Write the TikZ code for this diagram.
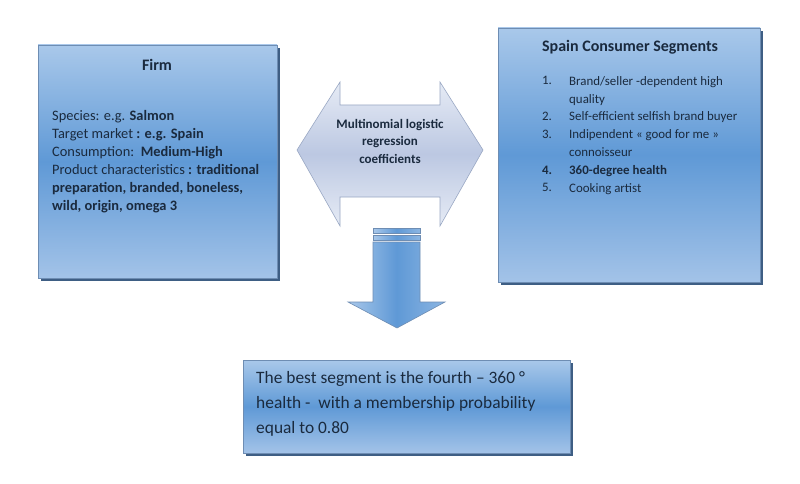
\documentclass[tikz,border=0pt]{standalone}
\usepackage{fontspec}
\setmainfont{Carlito}
\definecolor{boxtop}{HTML}{A9C8EA}
\definecolor{boxmid}{HTML}{5F99D6}
\definecolor{boxbot}{HTML}{A3C3E8}
\definecolor{boxline}{HTML}{6E8DB3}
\definecolor{shadowc}{HTML}{3E5E84}
\definecolor{arrtop}{HTML}{E6EBF5}
\definecolor{arrmid}{HTML}{BCC8E2}
\definecolor{arrline}{HTML}{9AA8C4}
\definecolor{txt}{HTML}{1A2A3E}
\begin{document}
\begin{tikzpicture}[x=1pt,y=-1pt,
  boxbody/.style={draw=boxline, line width=0.6pt, top color=boxtop, bottom color=boxbot, middle color=boxmid},
  boxshadow/.style={fill=shadowc},
  bodytext/.style={inner sep=0pt, align=left, text=txt, font=\fontsize{14.4}{18}\selectfont},
  segtextstyle/.style={inner sep=0pt, align=left, text=txt, font=\fontsize{12.9}{17.9}\selectfont},
  titletext/.style={inner sep=0pt, text=txt, font=\fontsize{16}{18}\selectfont\bfseries},
  arrbody/.style={draw=arrline, line width=0.6pt, top color=arrtop, bottom color=arrtop, middle color=arrmid},
  downarr/.style={draw=boxline, line width=0.6pt, left color=boxtop, right color=boxtop!60!boxmid, middle color=boxmid}
]
\useasboundingbox (0,0) rectangle (800,484);
\fill[white] (0,0) rectangle (800,484);

% Firm box
\fill[boxshadow] (41,48) rectangle (280,281);
\path[boxbody] (38,45) rectangle (277,278);
\node[titletext] (firmtitle) at (157,65) {Firm};
\node[bodytext, anchor=north west] (firmtext) at (52,110) {Species: e.g. \textbf{Salmon}\\
Target market \textbf{: e.g. Spain}\\
Consumption:\ \ \textbf{Medium-High}\\
Product characteristics \textbf{: traditional}\\
\textbf{preparation, branded, boneless,}\\
\textbf{wild, origin, omega 3}};

% Segments box
\fill[boxshadow] (501,31) rectangle (763,285);
\path[boxbody] (498,28) rectangle (760,282);
\node[titletext] (segtitle) at (630,47) {Spain Consumer Segments};
\node[segtextstyle, anchor=north west] (segnum) at (542,76) {1.\\ \\2.\\3.\\ \\\textbf{4.}\\5.};
\node[segtextstyle, anchor=north west] (segtext) at (569,76) {Brand/seller -dependent high\\
quality\\
Self-efficient selfish brand buyer\\
Indipendent « good for me »\\
connoisseur\\
\textbf{360-degree health}\\
Cooking artist};

% Double arrow
\path[arrbody] (297,150) -- (340,82) -- (340,105) -- (440,105) -- (440,82) -- (483,150)
  -- (440,226) -- (440,197) -- (340,197) -- (340,226) -- cycle;
\node[inner sep=0pt, align=center, text=txt, font=\fontsize{13}{17.5}\selectfont\bfseries] (coef) at (390,141)
  {Multinomial logistic\\regression\\coefficients};

% Down arrow
\path[downarr] (373,228) rectangle (420,233);
\path[downarr] (373,235) rectangle (420,240);
\path[downarr] (373,242) -- (420,242) -- (420,302) -- (445,302) -- (397,328) -- (348,302) -- (373,302) -- cycle;

% Result box
\fill[boxshadow] (246,363) rectangle (573,456);
\path[boxbody] (243,360) rectangle (570,453);
\node[inner sep=0pt, align=left, text=txt, font=\fontsize{17.4}{25}\selectfont, anchor=north west] (result) at (256,371)
  {The best segment is the fourth -- 360 °\\
health -\ \ with a membership probability\\
equal to 0.80};
\end{tikzpicture}
\end{document}
